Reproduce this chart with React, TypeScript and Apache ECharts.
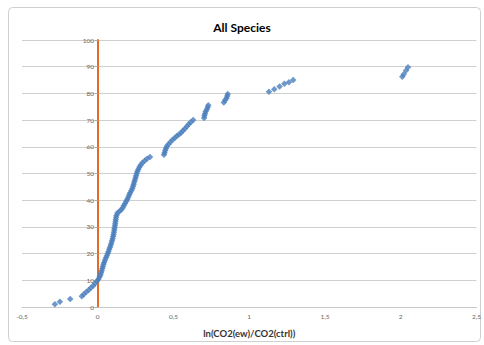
import React, { useEffect, useRef } from "react";
import * as echarts from "echarts";

const titleText = "All Species";
const xAxisName = "ln(CO2(ew)/CO2(ctrl))";

const xValues = [
  -0.283, -0.25, -0.182, -0.105, -0.092, -0.076, -0.06, -0.045, -0.03, -0.018,
  -0.006, 0.004, 0.012, 0.018, 0.022, 0.026, 0.03, 0.034, 0.038, 0.043,
  0.048, 0.054, 0.06, 0.066, 0.071, 0.076, 0.081, 0.086, 0.09, 0.094,
  0.098, 0.101, 0.104, 0.107, 0.109, 0.111, 0.113, 0.115, 0.117, 0.119,
  0.121, 0.124, 0.13, 0.142, 0.155, 0.165, 0.172, 0.18, 0.188, 0.195,
  0.202, 0.208, 0.214, 0.222, 0.228, 0.233, 0.237, 0.241, 0.245, 0.249,
  0.253, 0.257, 0.262, 0.268, 0.275, 0.284, 0.295, 0.31, 0.325, 0.345,
  0.437, 0.441, 0.445, 0.45, 0.456, 0.467, 0.48, 0.494, 0.508, 0.522,
  0.536, 0.55, 0.562, 0.575, 0.588, 0.6, 0.614, 0.63, 0.702, 0.704,
  0.708, 0.712, 0.72, 0.726, 0.73, 0.832, 0.84, 0.85, 0.855, 0.858,
  1.13, 1.165, 1.2, 1.232, 1.262, 1.29, 2.01, 2.02, 2.035, 2.048,
];

const yValues = [
  1.0, 2.0, 3.0, 4.0, 4.8, 5.6, 6.4, 7.2, 8.0, 8.8,
  9.6, 10.4, 11.2, 12.0, 12.8, 13.6, 14.4, 15.2, 16.0, 16.8,
  17.6, 18.4, 19.2, 20.0, 20.8, 21.6, 22.4, 23.2, 24.0, 24.8,
  25.6, 26.4, 27.2, 28.0, 28.8, 29.6, 30.4, 31.2, 32.0, 32.8,
  33.6, 34.4, 35.2, 35.8, 36.4, 37.2, 38.0, 38.8, 39.6, 40.4,
  41.2, 42.0, 42.8, 43.6, 44.4, 45.2, 46.0, 46.8, 47.6, 48.4,
  49.2, 50.0, 50.8, 51.6, 52.4, 53.2, 54.0, 54.8, 55.5, 56.2,
  57.0, 57.8, 58.6, 59.4, 60.2, 61.0, 61.8, 62.6, 63.3, 64.0,
  64.6, 65.3, 66.0, 66.8, 67.6, 68.4, 69.2, 70.0, 70.8, 71.6,
  72.4, 73.2, 74.0, 74.8, 75.6, 76.6, 77.4, 78.2, 79.0, 79.8,
  80.6, 81.6, 82.6, 83.6, 84.2, 85.0, 86.2, 87.2, 88.6, 89.8,
];

const xMin = -0.5;
const xMax = 2.5;
const xStep = 0.5;
const yMin = 0;
const yMax = 100;
const yStep = 10;

const gridLeft = 22;
const gridRight = 6;
const chartWidth = 484;

export default function App() {
  const ref = useRef<HTMLDivElement>(null);
  useEffect(() => {
    if (!ref.current) return;
    const chart = echarts.init(ref.current, undefined, { renderer: "svg" });
    const points = xValues.map((x, i) => [x, yValues[i]]);
    const plotWidth = chartWidth - gridLeft - gridRight;
    const zeroOffset = ((0 - xMin) / (xMax - xMin)) * plotWidth;
    chart.setOption({
      animation: false,
      backgroundColor: "#ffffff",
      textStyle: { fontFamily: "Lato, 'Open Sans', sans-serif" },
      graphic: [
        {
          type: "rect",
          shape: { x: 8.5, y: 7.5, width: 472, height: 334, r: 4 },
          style: { fill: "none", stroke: "#cfcfcf", lineWidth: 1 },
          silent: true,
          z: -1,
        },
      ],
      title: {
        text: titleText,
        left: "center",
        top: 16,
        textStyle: {
          fontSize: 12,
          fontWeight: "bold",
          color: "#000",
          fontFamily: "Lato, sans-serif",
        },
      },
      grid: { left: gridLeft, right: gridRight, top: 40, bottom: 38, containLabel: false },
      xAxis: {
        type: "value",
        min: xMin,
        max: xMax,
        interval: xStep,
        name: xAxisName,
        nameLocation: "middle",
        nameGap: 21,
        nameTextStyle: {
          fontSize: 9.5,
          fontWeight: "bold",
          color: "#333",
          fontFamily: "Lato, sans-serif",
        },
        axisLine: { onZero: false, lineStyle: { color: "#c8c8c8", width: 1 } },
        axisTick: { show: false },
        splitLine: { show: false },
        axisLabel: {
          fontSize: 6.5,
          color: "#666",
          margin: 6,
          formatter: (v: number) => String(v).replace(".", ","),
        },
      },
      yAxis: {
        type: "value",
        min: yMin,
        max: yMax,
        interval: yStep,
        position: "left",
        offset: -zeroOffset,
        axisLine: { show: true, onZero: false, lineStyle: { color: "#e46c2a", width: 2 } },
        axisTick: { show: true, length: 3, lineStyle: { color: "#aaa" } },
        splitLine: { show: true, lineStyle: { color: "#d0d0d0", width: 1.2 } },
        axisLabel: { fontSize: 6.5, color: "#666", margin: 4 },
      },
      series: [
        {
          type: "scatter",
          data: points,
          symbol: "diamond",
          symbolSize: 6.5,
          itemStyle: { color: "#4a7ebb" },
          z: 3,
        },
      ],
    });
    return () => chart.dispose();
  }, []);
  return (
    <div
      ref={ref}
      style={{ position: "fixed", left: 0, top: 0, width: chartWidth, height: 345 }}
    />
  );
}
